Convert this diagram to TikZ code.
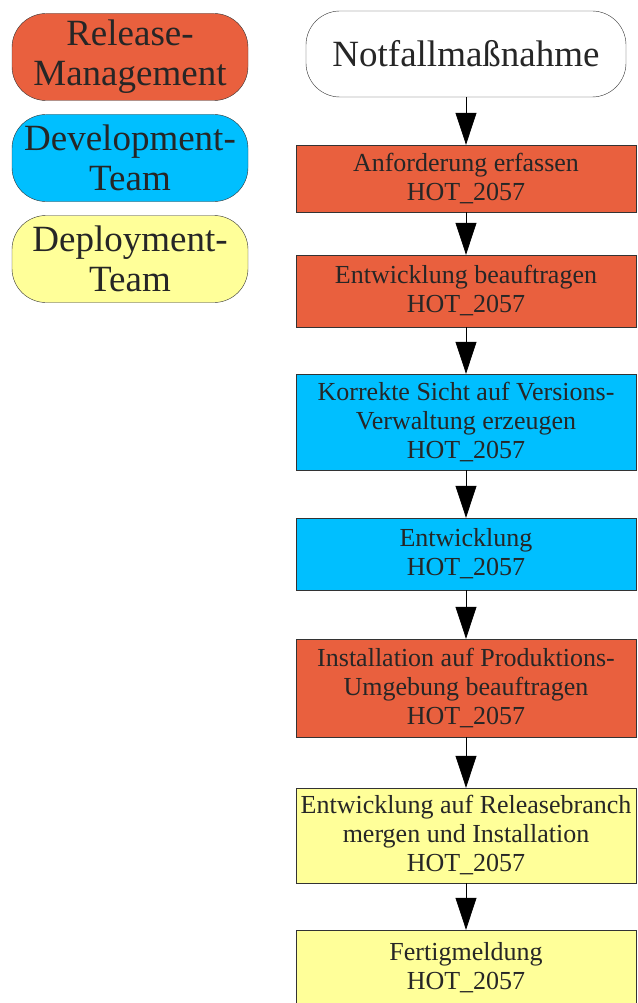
\documentclass[tikz,border=0pt]{standalone}
\usepackage{fontspec}
\setmainfont{Liberation Serif}
\usetikzlibrary{arrows.meta}
\definecolor{relmgmt}{RGB}{233,96,62}
\definecolor{devteam}{RGB}{0,191,255}
\definecolor{depteam}{RGB}{255,255,153}

\begin{document}
\begin{tikzpicture}[x=1pt,y=-1pt,
    legend/.style={draw=black!80,rounded corners=34pt,minimum width=236pt,minimum height=87pt,
      inner sep=0pt,align=center,font=\fontsize{37}{40}\selectfont,text=black!85},
    task/.style={draw=black!80,minimum width=340pt,inner sep=0pt,align=center,
      font=\fontsize{26}{29}\selectfont,text=black!85},
    flow/.style={-{Triangle[length=32pt,width=21pt]},black,line width=0.8pt}]
  \useasboundingbox (0,0) rectangle (637,1003);
  % legend
  \node[legend,fill=relmgmt] (lrel) at (130,57) {Release-\\Management};
  \node[legend,fill=devteam] (ldev) at (130,158) {Development-\\Team};
  \node[legend,fill=depteam] (ldep) at (130,259) {Deployment-\\Team};
  % flow
  \node[legend,fill=white,minimum width=320pt,minimum height=86pt] (start) at (466,54) {Notfallmaßnahme};
  \node[task,fill=relmgmt,minimum height=67pt] (req) at (466,178.5) {Anforderung erfassen\\HOT\_2057};
  \node[task,fill=relmgmt,minimum height=72pt] (order) at (466,291) {Entwicklung beauftragen\\HOT\_2057};
  \node[task,fill=devteam,minimum height=96pt] (view) at (466,422) {Korrekte Sicht auf Versions-\\Verwaltung erzeugen\\HOT\_2057};
  \node[task,fill=devteam,minimum height=72pt] (dev) at (466,554) {Entwicklung\\HOT\_2057};
  \node[task,fill=relmgmt,minimum height=98pt] (inst) at (466,688) {Installation auf Produktions-\\Umgebung beauftragen\\HOT\_2057};
  \node[task,fill=depteam,minimum height=95pt] (merge) at (466,835.5) {Entwicklung auf Releasebranch\\mergen und Installation\\HOT\_2057};
  \node[task,fill=depteam,minimum height=76pt] (done) at (466,968) {Fertigmeldung\\HOT\_2057};
  \draw[flow] (start) -- (req);
  \draw[flow] (req) -- (order);
  \draw[flow] (order) -- (view);
  \draw[flow] (view) -- (dev);
  \draw[flow] (dev) -- (inst);
  \draw[flow] (inst) -- (merge);
  \draw[flow] (merge) -- (done);
\end{tikzpicture}
\end{document}
